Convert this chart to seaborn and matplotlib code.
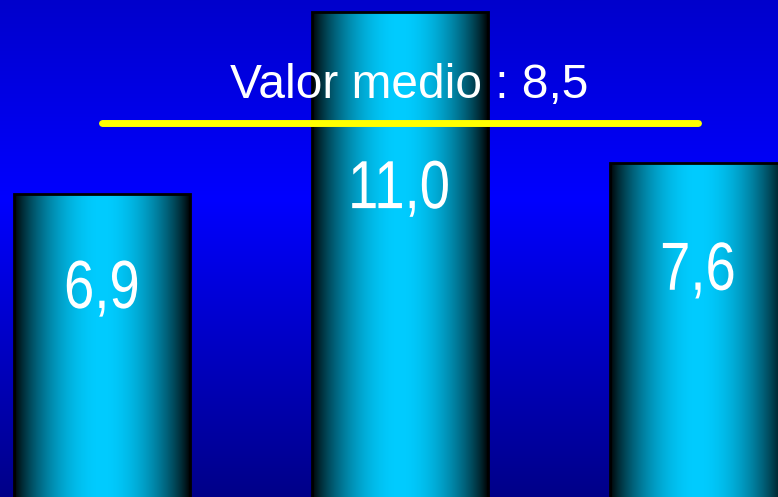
import numpy as np
import pandas as pd
import seaborn as sns
import matplotlib
matplotlib.use('Agg')
import matplotlib.pyplot as plt
from matplotlib.colors import LinearSegmentedColormap
from matplotlib.textpath import TextPath
from matplotlib.font_manager import FontProperties
from matplotlib.patches import PathPatch
from matplotlib.transforms import Affine2D

# data
categories = ['1', '2', '3']
values = [6.9, 11.0, 7.6]
labels = ['6,9', '11,0', '7,6']
mean_value = 8.5
mean_label = 'Valor medio : 8,5'

# how far below each bar top its number sits (baseline, data units)
label_drop = [2.57, 4.42, 2.86]

sns.set_theme(style='white')
plt.rcParams['font.family'] = ['Liberation Sans', 'DejaVu Sans']

df = pd.DataFrame({'cat': categories, 'val': values})

fig = plt.figure(figsize=(7.78, 4.97), dpi=100)
ax = fig.add_axes([0, 0, 1, 1])

# background: dark blue top, bright band, darker at the bottom
bg_cmap = LinearSegmentedColormap.from_list(
    'bg', [(0.0, '#000088'), (0.6, '#0000ff'), (1.0, '#0000cc')])
bg = np.linspace(0, 1, 256).reshape(-1, 1)
ax.imshow(bg, cmap=bg_cmap, aspect='auto', origin='lower',
          extent=[0, 1, 0, 1], transform=ax.transAxes, zorder=0)

sns.barplot(data=df, x='cat', y='val', ax=ax, width=0.59,
            color='#00ccff', edgecolor='black', linewidth=2, zorder=2)

ax.set_xlim(-0.342, 2.268)
ax.set_ylim(0.07, 11.27)
ax.set_axis_off()

# cylinder shading on each bar
t = np.linspace(0, 1, 200)
f = np.sin(np.pi * t) ** 0.8
cyl = np.zeros((1, len(t), 3))
cyl[0, :, 1] = 0.8 * f
cyl[0, :, 2] = f
for p in ax.patches:
    x0, y0 = p.get_x(), p.get_y()
    w, h = p.get_width(), p.get_height()
    im = ax.imshow(cyl, aspect='auto', extent=[x0, x0 + w, y0, y0 + h],
                   zorder=1.5, interpolation='bilinear')
    im.set_clip_path(p)
    p.set_facecolor('none')
    p.set_zorder(3)

# bar numbers in a narrow face: squeeze the glyph outlines sideways
fp = FontProperties(family='Liberation Sans')
px = fig.dpi / 72.0
squeeze = 0.8
for i, (v, lab) in enumerate(zip(values, labels)):
    tp = TextPath((0, 0), lab, size=49, prop=fp)
    bb = tp.get_extents()
    xd, yd = ax.transData.transform((i, v - label_drop[i]))
    tr = (Affine2D().translate(-(bb.x0 + bb.x1) / 2, 0)
          .scale(squeeze * px, px).translate(xd, yd))
    ax.add_patch(PathPatch(tp, transform=tr, facecolor='white',
                           edgecolor='none', zorder=4))

# mean line from first to last bar
ax.plot([0, len(values) - 1], [mean_value, mean_value], color='#ffff00',
        lw=5, solid_capstyle='round', zorder=5)
ax.text(1.03, mean_value + 0.56, mean_label, ha='center', va='baseline',
        color='white', fontsize=34.5, zorder=6)

fig.savefig('out.png', dpi=100)
